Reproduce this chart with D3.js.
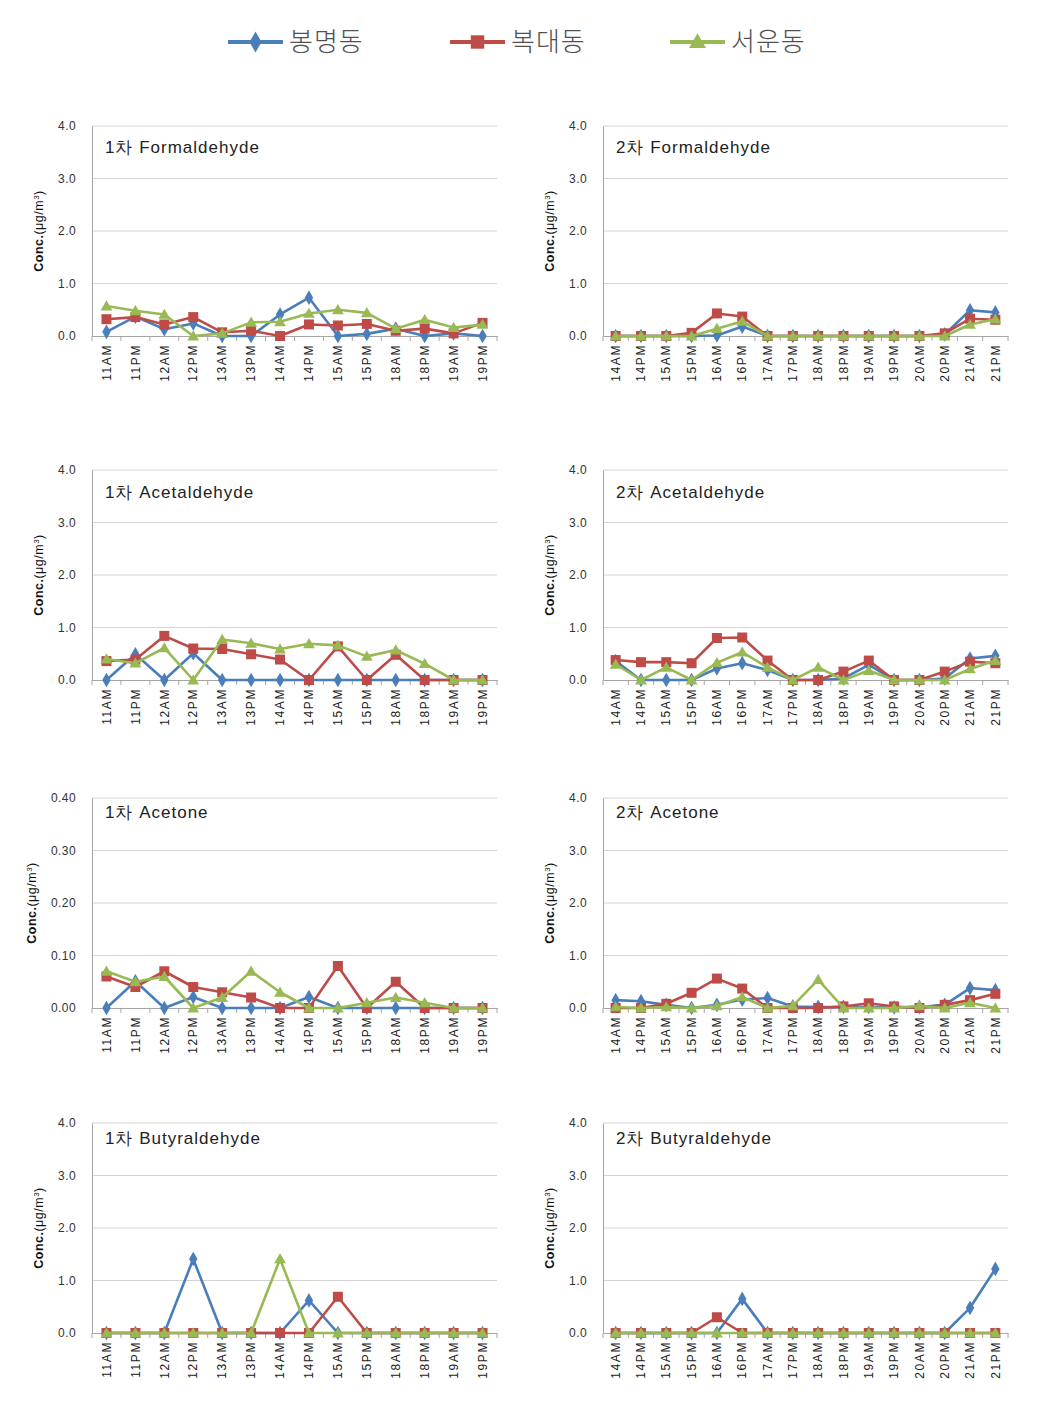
<!DOCTYPE html>
<html><head><meta charset="utf-8">
<script src="https://cdn.jsdelivr.net/npm/d3@7"></script>
<style>body{margin:0;background:#fff} svg{display:block}</style>
</head><body><svg id="c" width="1044" height="1416"></svg>
<script>
const seriesNames = ["봉명동", "복대동", "서운동"];
const seriesColors = ["#4A7EBB", "#BE4B48", "#98B954"];
const cats1 = ["11AM","11PM","12AM","12PM","13AM","13PM","14AM","14PM","15AM","15PM","18AM","18PM","19AM","19PM"];
const cats2 = ["14AM","14PM","15AM","15PM","16AM","16PM","17AM","17PM","18AM","18PM","19AM","19PM","20AM","20PM","21AM","21PM"];
const ticksMain = [0, 1, 2, 3, 4];
const ticksAcetone1 = [0, 0.1, 0.2, 0.3, 0.4];

// 1차 Formaldehyde
const form1Bong = [0.08,0.37,0.13,0.24,0,0,0.41,0.73,0,0.04,0.14,0,0.05,0];
const form1Bok  = [0.32,0.36,0.22,0.36,0.07,0.10,0,0.22,0.20,0.23,0.10,0.14,0.05,0.25];
const form1Seo  = [0.57,0.48,0.41,0,0.05,0.26,0.27,0.43,0.50,0.44,0.14,0.31,0.16,0.22];
// 2차 Formaldehyde
const form2Bong = [0,0,0,0,0.01,0.18,0,0,0,0,0,0,0,0.03,0.49,0.45];
const form2Bok  = [0,0,0,0.06,0.43,0.37,0,0,0,0,0,0,0,0.05,0.33,0.31];
const form2Seo  = [0,0,0,0,0.14,0.28,0,0,0,0,0,0,0,0,0.22,0.32];
// 1차 Acetaldehyde
const acet1Bong = [0,0.49,0,0.51,0,0,0,0,0,0,0,0,0,0];
const acet1Bok  = [0.36,0.39,0.84,0.60,0.59,0.49,0.39,0,0.64,0,0.48,0,0,0];
const acet1Seo  = [0.40,0.32,0.61,0,0.77,0.70,0.59,0.69,0.66,0.45,0.57,0.31,0,0];
// 2차 Acetaldehyde
const acet2Bong = [0.36,0,0,0,0.22,0.32,0.19,0,0,0.03,0.29,0,0,0.03,0.41,0.46];
const acet2Bok  = [0.38,0.34,0.34,0.32,0.80,0.81,0.37,0,0,0.16,0.37,0,0,0.16,0.35,0.32];
const acet2Seo  = [0.30,0,0.24,0,0.33,0.53,0.24,0,0.24,0,0.18,0,0,0,0.21,0.37];
// 1차 Acetone
const acon1Bong = [0,0.051,0,0.021,0,0,0,0.021,0,0,0,0,0,0];
const acon1Bok  = [0.06,0.04,0.07,0.04,0.03,0.02,0,0,0.08,0,0.05,0,0,0];
const acon1Seo  = [0.07,0.05,0.06,0,0.02,0.07,0.03,0,0,0.01,0.02,0.01,0,0];
// 2차 Acetone
const acon2Bong = [0.15,0.13,0.06,0,0.06,0.16,0.19,0.03,0.02,0.02,0.02,0.01,0.02,0.06,0.38,0.34];
const acon2Bok  = [0,0,0.08,0.29,0.56,0.37,0,0,0,0.03,0.09,0.03,0,0.06,0.15,0.27];
const acon2Seo  = [0.02,0,0.02,0,0.04,0.21,0,0.04,0.54,0,0,0,0.04,0,0.10,0];
// 1차 Butyraldehyde
const buty1Bong = [0,0,0,1.41,0,0,0,0.62,0,0,0,0,0,0];
const buty1Bok  = [0,0,0,0,0,0,0,0,0.69,0,0,0,0,0];
const buty1Seo  = [0,0,0,0,0,0,1.41,0,0,0,0,0,0,0];
// 2차 Butyraldehyde
const buty2Bong = [0,0,0,0,0,0.65,0,0,0,0,0,0,0,0,0.48,1.22];
const buty2Bok  = [0,0,0,0,0.30,0,0,0,0,0,0,0,0,0,0,0];
const buty2Seo  = [0,0,0,0,0,0,0,0,0,0,0,0,0,0,0,0];

const panels = [
  {title:"1차 Formaldehyde", cats:cats1, data:[form1Bong,form1Bok,form1Seo], ticks:ticksMain, fmt:".1f", col:0, row:0},
  {title:"2차 Formaldehyde", cats:cats2, data:[form2Bong,form2Bok,form2Seo], ticks:ticksMain, fmt:".1f", col:1, row:0},
  {title:"1차 Acetaldehyde", cats:cats1, data:[acet1Bong,acet1Bok,acet1Seo], ticks:ticksMain, fmt:".1f", col:0, row:1},
  {title:"2차 Acetaldehyde", cats:cats2, data:[acet2Bong,acet2Bok,acet2Seo], ticks:ticksMain, fmt:".1f", col:1, row:1},
  {title:"1차 Acetone", cats:cats1, data:[acon1Bong,acon1Bok,acon1Seo], ticks:ticksAcetone1, fmt:".2f", col:0, row:2},
  {title:"2차 Acetone", cats:cats2, data:[acon2Bong,acon2Bok,acon2Seo], ticks:ticksMain, fmt:".1f", col:1, row:2},
  {title:"1차 Butyraldehyde", cats:cats1, data:[buty1Bong,buty1Bok,buty1Seo], ticks:ticksMain, fmt:".1f", col:0, row:3},
  {title:"2차 Butyraldehyde", cats:cats2, data:[buty2Bong,buty2Bok,buty2Seo], ticks:ticksMain, fmt:".1f", col:1, row:3}
];

const colX = [[92, 497], [603, 1008]];
const rowTop = [126, 470, 798, 1123];
const titleOff = [27, 28, 20, 21];
const plotH = 210;
const font = "'Liberation Sans', Arial, sans-serif";
const symbols = [d3.symbolDiamond, d3.symbolSquare, d3.symbolTriangle];
const symSizes = [62, 100, 60];

const svg = d3.select("#c");

// Legend
const legendX = [228, 450, 670];
const legendY = 42;
seriesNames.forEach((name, i) => {
  const g = svg.append("g").attr("transform", `translate(${legendX[i]},${legendY})`);
  g.append("line").attr("x1", 0).attr("x2", 55).attr("y1", 0).attr("y2", 0)
    .attr("stroke", seriesColors[i]).attr("stroke-width", 4);
  g.append("path").attr("transform", `translate(27.5,${i===2?1:0})`)
    .attr("d", d3.symbol().type(symbols[i]).size(i===1 ? 180 : 125)())
    .attr("fill", seriesColors[i]);
  g.append("text").attr("x", 61).attr("y", 9)
    .attr("font-family", "'Noto Sans CJK KR', sans-serif").attr("font-size", 26).attr("font-weight", 300)
    .attr("letter-spacing", 1)
    .attr("fill", "#505050").text(name);
});

panels.forEach(p => {
  const [x0, x1] = colX[p.col];
  const top = rowTop[p.row];
  const bottom = top + plotH;
  const x = d3.scaleBand().domain(p.cats).range([x0, x1]).padding(0);
  const y = d3.scaleLinear().domain([p.ticks[0], p.ticks[p.ticks.length - 1]]).range([bottom, top]);
  const g = svg.append("g");

  // gridlines
  g.append("g").selectAll("line").data(p.ticks.slice(1)).join("line")
    .attr("x1", x0).attr("x2", x1).attr("y1", d => y(d)).attr("y2", d => y(d))
    .attr("stroke", "#d4d4d4").attr("stroke-width", 1);

  // y axis
  const yAxis = d3.axisLeft(y).tickValues(p.ticks).tickFormat(d3.format(p.fmt)).tickSize(0).tickPadding(16);
  const ya = g.append("g").attr("transform", `translate(${x0},0)`).call(yAxis);
  ya.select(".domain").attr("stroke", "#a6a6a6");
  ya.selectAll("text").attr("font-family", font).attr("font-size", 12).attr("letter-spacing", 0.4).attr("fill", "#333");

  // x axis
  const xa = g.append("g").attr("transform", `translate(0,${bottom})`)
    .call(d3.axisBottom(x).tickSize(0).tickPadding(0));
  xa.select(".domain").attr("stroke", "#a6a6a6");
  xa.selectAll(".tick text")
    .attr("transform", "rotate(-90)")
    .attr("x", -8).attr("y", 0).attr("dy", "0.35em")
    .attr("text-anchor", "end")
    .attr("font-family", font).attr("font-size", 12).attr("letter-spacing", 1.6).attr("fill", "#222");
  // boundary tick marks
  const bounds = p.cats.map(c => x(c)).concat([x1]);
  xa.append("g").selectAll("line").data(bounds).join("line")
    .attr("x1", d => d).attr("x2", d => d).attr("y1", 0).attr("y2", 5)
    .attr("stroke", "#a6a6a6");

  // y title
  const yt = g.append("text")
    .attr("transform", `translate(${x0 - (p.fmt === ".2f" ? 56 : 49)},${(top + bottom) / 2}) rotate(-90)`)
    .attr("text-anchor", "middle").attr("font-family", font).attr("font-size", 12.5)
    .attr("letter-spacing", 0.5).attr("fill", "#111");
  yt.append("tspan").attr("font-weight", "bold").text("Conc.");
  yt.append("tspan").text("(μg/m");
  yt.append("tspan").attr("font-size", 8).attr("dy", -4.5).text("3");
  yt.append("tspan").attr("dy", 4.5).text(")");

  // title
  g.append("text").attr("x", x0 + 13).attr("y", top + titleOff[p.row])
    .attr("font-family", font).attr("font-size", 17).attr("letter-spacing", 1)
    .attr("fill", "#222").text(p.title);

  // series
  const line = d3.line().x((d, i) => x(p.cats[i]) + x.bandwidth() / 2).y(d => y(d));
  p.data.forEach((vals, si) => {
    const sg = g.append("g");
    sg.append("path").datum(vals).attr("d", line).attr("fill", "none")
      .attr("stroke", seriesColors[si]).attr("stroke-width", 2.6).attr("stroke-linejoin", "round");
    sg.selectAll("path.m").data(vals).join("path").attr("class", "m")
      .attr("transform", (d, i) => `translate(${x(p.cats[i]) + x.bandwidth() / 2},${y(d) + (si === 2 ? 1 : 0)})`)
      .attr("d", d3.symbol().type(symbols[si]).size(symSizes[si])())
      .attr("fill", seriesColors[si]);
  });
});
</script>
</body></html>
